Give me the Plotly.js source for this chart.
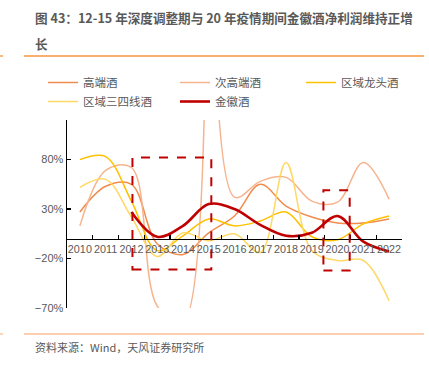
<!DOCTYPE html>
<html>
<head>
<meta charset="utf-8">
<script src="https://cdn.plot.ly/plotly-3.0.1.min.js"></script>
<style>
html,body{margin:0;padding:0;background:#fff;}
#chart{width:429px;height:366px;}
</style>
</head>
<body>
<div id="chart"></div>
<script>
// ---- data ----
const years = ["2010","2011","2012","2013","2014","2015","2016","2017","2018","2019","2020","2021","2022"];
const gaoduan      = [27, 53, 55, -5, -16, 6, 23, 55, 33, 22, 16, 16, 20];          // 高端酒
const cigaoduan    = [13, 69, 72, -68, -85, 700, 42, 58, 62, 38, 37, 77, 40];       // 次高端酒
const quyuLongtou  = [80, 83, 38, -12, 3, 20, 13, 18, 27, 2, -1, 15, 23];          // 区域龙头酒
const quyuSansi    = [52, 60, 22, -18, 6, -2, 5, -14, 77, -12, -22, -22, -63];     // 区域三四线酒
const jinhui       = [null, null, 27, 2, 13, 35, 30, 14, 3, 6, 23, -3, -13];        // 金徽酒
const seriesNames  = ["高端酒", "次高端酒", "区域龙头酒", "区域三四线酒", "金徽酒"];
const yTickVals    = [-70, -20, 30, 80];
const yTickText    = yTickVals.map(v => (v < 0 ? "\u2212" + Math.abs(v) : String(v)) + "%");
// highlighted periods: [x0, x1, y0, y1] in category index / percent
const box1 = [2.04, 5.1, -31, 82];
const box2 = [9.45, 10.47, -32, 49];

const colors = ["#F08C4E", "#F6B48E", "#FFC000", "#FFD966", "#C00000"];
const widths = [1.5, 1.5, 1.5, 1.5, 2.6];
const legendOf = ["legend", "legend2", "legend3", "legend", "legend2"];
const allVals = [gaoduan, cigaoduan, quyuLongtou, quyuSansi, jinhui];

const traces = allVals.map((v, i) => ({
  x: years, y: v, name: seriesNames[i], type: "scatter", mode: "lines",
  line: {color: colors[i], width: widths[i], shape: "spline", smoothing: 1},
  connectgaps: false, hoverinfo: "skip", legend: legendOf[i]
}));

const font = "Liberation Sans, Noto Sans CJK SC, sans-serif";
const cjk = "Noto Sans CJK SC, sans-serif";
const gray = "#595959";

// pixel -> paper helpers (plot area: left 67, width 335, bottom 308, height 188)
const px = x => (x - 67) / 335;
const py = y => (308 - y) / 188;

function boxShape(b) {
  return {type: "rect", xref: "x", yref: "y", x0: b[0], x1: b[1], y0: b[2], y1: b[3],
    line: {color: "#C00000", width: 2, dash: "dash"}, fillcolor: "rgba(0,0,0,0)", layer: "above"};
}
function paperLine(x0, x1, y, color, w) {
  return {type: "line", xref: "paper", yref: "paper",
    x0: px(x0), x1: px(x1), y0: py(y), y1: py(y), line: {color: color, width: w}};
}
function legendAt(left) {
  return {orientation: "v", x: px(left), xanchor: "left", y: py(68), yanchor: "top",
    font: {family: cjk, size: 11.5, color: gray}, bgcolor: "rgba(0,0,0,0)",
    borderwidth: 0, traceorder: "normal", itemclick: false, itemdoubleclick: false};
}

const layout = {
  width: 429, height: 366,
  margin: {l: 67, r: 27, t: 120, b: 58, pad: 0},
  paper_bgcolor: "#fff", plot_bgcolor: "#fff",
  showlegend: true,
  legend: legendAt(43),
  legend2: legendAt(175),
  legend3: legendAt(301),
  xaxis: {
    type: "category", range: [-0.5, 12.5], anchor: "free", position: 70 / 190,
    showline: true, linecolor: "#000", linewidth: 1.5,
    ticks: "inside", ticklen: 4, tickcolor: "#000", tickwidth: 1.2, tickson: "boundaries",
    tickangle: 0, tickfont: {family: font, size: 10.8, color: gray},
    showgrid: false, zeroline: false, fixedrange: true
  },
  yaxis: {
    range: [-70, 120], tickvals: yTickVals, ticktext: yTickText,
    showline: true, linecolor: "#000", linewidth: 1.5,
    ticks: "inside", ticklen: 4, tickcolor: "#000", tickwidth: 1.2,
    tickfont: {family: font, size: 11, color: gray},
    showgrid: false, zeroline: false, fixedrange: true
  },
  shapes: [
    boxShape(box1), boxShape(box2),
    paperLine(24, 424, 56, "#F7963F", 1.3),
    paperLine(0, 3, 56, "#F7963F", 1.3),
    paperLine(24, 424, 334, "#F8BE95", 1.3),
    paperLine(0, 3, 334, "#F8BE95", 1.3)
  ],
  annotations: [
    {xref: "paper", yref: "paper", x: px(33), y: py(17), xanchor: "left", yanchor: "middle",
     align: "left", showarrow: false,
     text: "<b>图 43：12-15 年深度调整期与 20 年疫情期间金徽酒净利润维持正增</b>",
     font: {family: cjk, size: 12.6, color: "#595959"}},
    {xref: "paper", yref: "paper", x: px(33), y: py(43), xanchor: "left", yanchor: "middle",
     align: "left", showarrow: false,
     text: "<b>长</b>",
     font: {family: cjk, size: 12.6, color: "#595959"}},
    {xref: "paper", yref: "paper", x: px(33), y: py(347), xanchor: "left", yanchor: "middle",
     align: "left", showarrow: false,
     text: "资料来源：Wind，天风证券研究所",
     font: {family: cjk, size: 11, color: gray}}
  ]
};

Plotly.newPlot("chart", traces, layout, {displayModeBar: false, staticPlot: true});
</script>
</body>
</html>
